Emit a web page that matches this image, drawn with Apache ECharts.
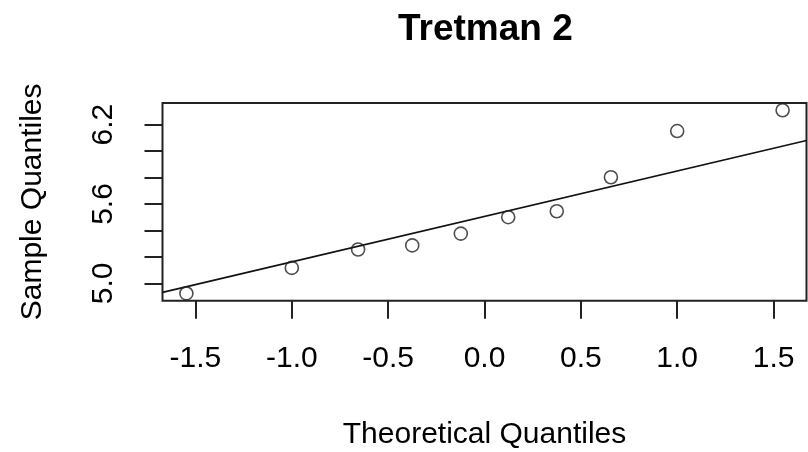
<!DOCTYPE html>
<html lang="en">
<head>
    <meta charset="UTF-8">
    <title>Tretman 2</title>
    <script src="https://cdn.jsdelivr.net/npm/echarts@6/dist/echarts.min.js"></script>
    <style>
        *{
            margin: 0;
            padding: 0;
        }
        #box{
            width: 808px;
            height: 452px;
            background: #fff;
        }
    </style>
</head>
<body>
<div id="box"></div>
<script type="text/javascript">
    // teorijski kvantili i izmjerene vrijednosti
    let theoretical = [-1.547, -1.000, -0.656, -0.375, -0.123, 0.123, 0.375, 0.656, 1.000, 1.547];
    let sample = [4.924, 5.117, 5.256, 5.287, 5.376, 5.500, 5.545, 5.802, 6.151, 6.308];
    // qqline, krajnje tocke ocitane sa slike
    let lineX = [-1.671, 1.671];
    let lineY = [4.932, 6.080];
    let xTicks = [-1.5, -1.0, -0.5, 0.0, 0.5, 1.0, 1.5];
    let yTicks = [5.0, 5.2, 5.4, 5.6, 5.8, 6.0, 6.2];
    let yLabels = [5.0, 5.6, 6.2];

    let font = 'Liberation Sans, Arial, sans-serif';
    let chart = echarts.init(document.getElementById('box'));

    let points = theoretical.map((x, i) => [x, sample[i]]);
    let line = lineX.map((x, i) => [x, lineY[i]]);

    let option = {
        animation: false,
        title: {
            text: 'Tretman 2',
            left: 393,
            top: 6,
            textStyle: {
                fontFamily: font,
                fontSize: 37,
                fontWeight: 'bold',
                color: '#000'
            }
        },
        grid: {
            left: 162.5,
            right: 1.5,
            top: 103,
            bottom: 151.3,
            show: true,
            borderColor: '#222',
            borderWidth: 2,
            backgroundColor: 'transparent'
        },
        xAxis: {
            type: 'value',
            min: -1.671,
            max: 1.671,
            name: 'Theoretical Quantiles',
            nameLocation: 'middle',
            nameGap: 119,
            nameTextStyle: {fontFamily: font, fontSize: 30, color: '#000'},
            axisLine: {show: false, onZero: false},
            splitLine: {show: false},
            axisTick: {
                show: true,
                length: 18,
                customValues: xTicks,
                lineStyle: {color: '#222', width: 2}
            },
            axisLabel: {
                customValues: xTicks,
                margin: 43,
                fontFamily: font,
                fontSize: 30,
                color: '#000',
                formatter: v => v.toFixed(1)
            }
        },
        yAxis: {
            type: 'value',
            min: 4.869,
            max: 6.363,
            name: 'Sample Quantiles',
            nameLocation: 'middle',
            nameGap: 115,
            nameTextStyle: {fontFamily: font, fontSize: 30, color: '#000'},
            axisLine: {show: false, onZero: false},
            splitLine: {show: false},
            axisTick: {
                show: true,
                length: 18,
                customValues: yTicks,
                lineStyle: {color: '#222', width: 2}
            },
            axisLabel: {
                customValues: yLabels,
                rotate: 90,
                margin: 44,
                fontFamily: font,
                fontSize: 30,
                color: '#000',
                formatter: v => v.toFixed(1)
            }
        },
        series: [
            {
                type: 'line',
                data: line,
                symbol: 'none',
                lineStyle: {color: '#111', width: 1.6},
                z: 2
            },
            {
                type: 'scatter',
                data: points,
                symbol: 'circle',
                symbolSize: 13,
                itemStyle: {
                    color: 'rgba(255,255,255,0)',
                    borderColor: '#222',
                    borderWidth: 1.6
                },
                z: 3
            }
        ]
    };
    chart.setOption(option);
</script>
</body>
</html>
